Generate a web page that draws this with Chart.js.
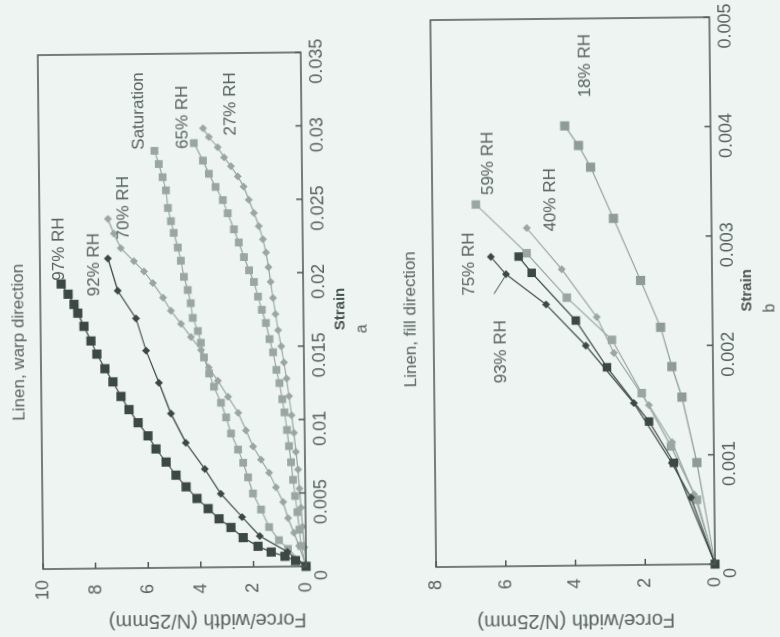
<!DOCTYPE html>
<html>
<head>
<meta charset="utf-8">
<script src="https://cdn.jsdelivr.net/npm/chart.js@4.4.1/dist/chart.umd.min.js"></script>
<style>
  html, body { margin: 0; padding: 0; }
  body { width: 780px; height: 637px; background: #eef4f2; position: relative; overflow: hidden; }
  .panel { position: absolute; width: 637px; height: 390px; transform: rotate(-90.6deg); }
  #panelA { left: -123.5px; top: 123.5px; }
  #panelB { left: 266.5px; top: 123.5px; }
</style>
</head>
<body>
<div class="panel" id="panelA"><canvas id="chartA" width="637" height="390"></canvas></div>
<div class="panel" id="panelB"><canvas id="chartB" width="637" height="390"></canvas></div>
<script>
// tick labels
var strainTicksA = ['0', '0.005', '0.01', '0.015', '0.02', '0.025', '0.03', '0.035'];
var forceTicksA = ['0', '2', '4', '6', '8', '10'];
var strainTicksB = ['0', '0.001', '0.002', '0.003', '0.004', '0.005'];
var forceTicksB = ['0', '2', '4', '6', '8'];

// (a) warp direction
var strain97 = [0, 0.0004, 0.0007, 0.001, 0.0014, 0.002, 0.0027, 0.0033, 0.004, 0.0047, 0.0055, 0.0063, 0.0072, 0.0081, 0.009, 0.0099, 0.0108, 0.0117, 0.0127, 0.0136, 0.0146, 0.0155, 0.0165, 0.0174, 0.018, 0.0187, 0.0194];
var force97 = [0, 0.4, 0.8, 1.32, 1.82, 2.38, 2.84, 3.29, 3.7, 4.12, 4.53, 4.91, 5.28, 5.66, 5.96, 6.33, 6.67, 6.97, 7.27, 7.57, 7.87, 8.09, 8.35, 8.58, 8.72, 8.94, 9.2];
var strain92 = [0, 0.001, 0.0021, 0.0034, 0.005, 0.0067, 0.0085, 0.0105, 0.0126, 0.0148, 0.017, 0.0189, 0.0211];
var force92 = [0, 0.7, 1.75, 2.41, 3.21, 3.81, 4.52, 5.08, 5.52, 6.0, 6.37, 7.05, 7.41];
var strain70 = [0, 0.0014, 0.0023, 0.0033, 0.0044, 0.0054, 0.0064, 0.0073, 0.0082, 0.0093, 0.0105, 0.0116, 0.0127, 0.0136, 0.0148, 0.0157, 0.0166, 0.0175, 0.0184, 0.0194, 0.0202, 0.0209, 0.0218, 0.0228, 0.0238];
var force70 = [0, 0.26, 0.45, 0.67, 0.85, 1.11, 1.37, 1.67, 1.97, 2.23, 2.52, 2.9, 3.28, 3.62, 3.91, 4.29, 4.66, 5.04, 5.33, 5.71, 6.05, 6.43, 6.92, 7.18, 7.4];
var strainSat = [0, 0.0012, 0.0018, 0.0027, 0.0039, 0.005, 0.0061, 0.0071, 0.008, 0.0091, 0.0102, 0.0112, 0.0123, 0.0132, 0.0143, 0.0153, 0.0161, 0.017, 0.018, 0.0189, 0.0198, 0.0209, 0.0218, 0.0228, 0.0236, 0.0245, 0.0257, 0.0266, 0.0275, 0.0284];
var forceSat = [0, 0.68, 1.02, 1.39, 1.69, 1.99, 2.17, 2.35, 2.54, 2.8, 2.98, 3.17, 3.43, 3.61, 3.8, 3.91, 4.02, 4.21, 4.28, 4.39, 4.53, 4.64, 4.75, 4.9, 5.0, 5.11, 5.18, 5.3, 5.44, 5.6];
var strain65 = [0, 0.0014, 0.0025, 0.0037, 0.0048, 0.0059, 0.0071, 0.0082, 0.0093, 0.0105, 0.0114, 0.0125, 0.0134, 0.0146, 0.0155, 0.0166, 0.0175, 0.0184, 0.0194, 0.0202, 0.0211, 0.0221, 0.023, 0.0241, 0.025, 0.0259, 0.0268, 0.0277, 0.0289];
var force65 = [0, 0.18, 0.24, 0.31, 0.39, 0.46, 0.53, 0.6, 0.67, 0.76, 0.84, 0.94, 1.05, 1.17, 1.3, 1.43, 1.58, 1.72, 1.87, 2.05, 2.24, 2.43, 2.61, 2.84, 3.02, 3.29, 3.54, 3.76, 4.1];
var strain27 = [0, 0.0013, 0.0027, 0.004, 0.0053, 0.0066, 0.0078, 0.0091, 0.0103, 0.0116, 0.0128, 0.0139, 0.015, 0.0161, 0.0172, 0.0183, 0.0194, 0.0204, 0.0214, 0.0223, 0.0232, 0.0241, 0.025, 0.0259, 0.0266, 0.0273, 0.0279, 0.0286, 0.0293, 0.0299];
var force27 = [0, 0.06, 0.12, 0.17, 0.22, 0.27, 0.34, 0.41, 0.49, 0.58, 0.67, 0.76, 0.86, 0.97, 1.06, 1.15, 1.24, 1.31, 1.4, 1.51, 1.66, 1.84, 2.03, 2.22, 2.44, 2.7, 2.96, 3.19, 3.53, 3.75];

// (b) fill direction
var strain18 = [0, 0.00093, 0.00153, 0.00181, 0.00217, 0.0026, 0.00317, 0.00364, 0.00384, 0.00402];
var force18 = [0, 0.49, 0.9, 1.18, 1.49, 2.05, 2.81, 3.45, 3.79, 4.18];
var strain40 = [0, 0.00064, 0.00112, 0.00146, 0.00194, 0.00227, 0.00271, 0.00309];
var force40 = [0, 0.58, 1.2, 1.85, 2.84, 3.32, 4.31, 5.3];
var strain59 = [0, 0.00059, 0.00108, 0.00157, 0.00206, 0.00245, 0.00286, 0.00331];
var force59 = [0, 0.5, 1.23, 2.05, 2.89, 4.17, 5.31, 6.75];
var strain75 = [0, 0.00061, 0.00093, 0.00148, 0.00201, 0.00239, 0.00267, 0.00283];
var force75 = [0, 0.67, 1.21, 2.28, 3.64, 4.77, 5.91, 6.34];
var strain93 = [0, 0.00093, 0.00131, 0.00181, 0.00224, 0.00268, 0.00283];
var force93 = [0, 1.15, 1.85, 3.04, 3.92, 5.17, 5.54];

var font = '"Liberation Sans", Arial, sans-serif';
var textColor = '#58625e';
var dark = '#3c4844';
var light = '#9aa6a2';
var mid = '#8f9b97';

function curve(label, strain, force, color, style, radius) {
    return {
        label: label,
        data: strain.map(function (s, i) { return {x: s, y: force[i]}; }),
        showLine: true,
        borderColor: color,
        backgroundColor: color,
        pointBorderColor: color,
        pointBackgroundColor: color,
        borderWidth: 1.2,
        pointBorderWidth: 0,
        pointStyle: style,
        pointRadius: radius,
        tension: 0,
        clip: 10
    };
}

// text next to the last point of each curve, offsets in px
var curveTextA = [
    {text: '97% RH', dx: 35, dy: -2},
    {text: '92% RH', dx: -6, dy: -14},
    {text: '70% RH', dx: 11, dy: 16},
    {text: 'Saturation', dx: 40, dy: -15},
    {text: '65% RH', dx: 26, dy: -11},
    {text: '27% RH', dx: 24, dy: 28}
];
var curveTextB = [
    {text: '93% RH', dx: -95, dy: -18, leader: [-37, -25, -20, -14]},
    {text: '75% RH', dx: -7, dy: -22},
    {text: '40% RH', dx: 28, dy: 24},
    {text: '59% RH', dx: 41, dy: 13},
    {text: '18% RH', dx: 60, dy: 21}
];

// box, inward ticks, heading and curve captions
var decor = {
    id: 'decor',
    afterDatasetsDraw: function (chart, args, opts) {
        var ctx = chart.ctx, a = chart.chartArea;
        var xs = chart.scales.x, ys = chart.scales.y;
        ctx.save();
        ctx.strokeStyle = '#4c5753';
        ctx.lineWidth = 1.5;
        ctx.strokeRect(a.left, a.top, a.right - a.left, a.bottom - a.top);
        ctx.beginPath();
        xs.ticks.forEach(function (t) {
            var px = xs.getPixelForValue(t.value);
            ctx.moveTo(px, a.bottom);
            ctx.lineTo(px, a.bottom - 6);
        });
        ys.ticks.forEach(function (t) {
            var py = ys.getPixelForValue(t.value);
            ctx.moveTo(a.left, py);
            ctx.lineTo(a.left + 6, py);
        });
        ctx.stroke();

        ctx.fillStyle = textColor;
        ctx.textAlign = 'center';
        ctx.textBaseline = 'middle';
        ctx.font = '17px ' + font;
        ctx.fillText(opts.heading, a.left + opts.headingDx, opts.headingY);

        chart.data.datasets.forEach(function (ds, i) {
            var c = opts.captions[i];
            var last = ds.data[ds.data.length - 1];
            var px = xs.getPixelForValue(last.x);
            var py = ys.getPixelForValue(last.y);
            ctx.fillText(c.text, px + c.dx, py + c.dy);
            if (c.leader) {
                ctx.beginPath();
                ctx.lineWidth = 1;
                ctx.strokeStyle = dark;
                ctx.moveTo(px + c.leader[0], py + c.leader[1]);
                ctx.lineTo(px + c.leader[2], py + c.leader[3]);
                ctx.stroke();
            }
        });

        ctx.font = '16px ' + font;
        ctx.fillText(opts.tag, (a.left + a.right) / 2 + opts.tagDx, a.bottom + opts.tagDy);
        ctx.restore();
    }
};

function makeChart(id, datasets, s) {
    return new Chart(document.getElementById(id), {
        type: 'scatter',
        data: {datasets: datasets},
        options: {
            responsive: false,
            animation: false,
            devicePixelRatio: 1,
            layout: {padding: {left: 0, right: s.padRight, top: s.padTop, bottom: 0}},
            plugins: {
                legend: {display: false},
                tooltip: {enabled: false},
                title: {display: false},
                decor: {
                    heading: s.title, headingDx: s.headingDx, headingY: s.headingY,
                    captions: s.captions, tag: s.tag, tagDx: s.tagDx, tagDy: s.tagDy
                }
            },
            scales: {
                x: {
                    type: 'linear',
                    min: 0,
                    max: s.xMax,
                    afterFit: function (scale) {
                        scale.height = s.xHeight;
                        scale.paddingLeft = 0;
                        scale.paddingRight = 0;
                    },
                    grid: {display: false, drawTicks: false},
                    border: {display: false},
                    ticks: {
                        stepSize: s.xStep,
                        padding: 5,
                        labelOffset: -9,
                        maxRotation: 0,
                        autoSkip: false,
                        color: textColor,
                        font: {family: font, size: 18},
                        callback: function (v, i) { return s.xLabels[i]; }
                    },
                    title: {
                        display: true,
                        text: 'Strain',
                        color: '#4a5451',
                        font: {family: font, size: 15, weight: 'bold'},
                        padding: {top: 0, bottom: s.strainPad}
                    }
                },
                y: {
                    type: 'linear',
                    min: 0,
                    max: s.yMax,
                    afterFit: function (scale) {
                        scale.width = s.yWidth;
                        scale.paddingTop = 0;
                        scale.paddingBottom = 0;
                    },
                    grid: {display: false, drawTicks: false},
                    border: {display: false},
                    ticks: {
                        stepSize: 2,
                        padding: s.yPad,
                        crossAlign: 'center',
                        color: textColor,
                        font: {family: font, size: 18},
                        callback: function (v, i) { return s.yLabels[i]; }
                    },
                    title: {
                        display: true,
                        text: 'Force/width (N/25mm)',
                        align: s.forceAlign,
                        color: textColor,
                        font: {family: font, size: 20},
                        padding: {top: 5, bottom: 0}
                    }
                }
            }
        },
        plugins: [decor]
    });
}

makeChart('chartA', [
    curve('97% RH', strain97, force97, dark, 'rect', 6.5),
    curve('92% RH', strain92, force92, dark, 'rectRot', 4),
    curve('70% RH', strain70, force70, light, 'rectRot', 4),
    curve('Saturation', strainSat, forceSat, light, 'rect', 5.5),
    curve('65% RH', strain65, force65, light, 'rect', 5.5),
    curve('27% RH', strain27, force27, light, 'rectRot', 4)
], {
    title: 'Linen, warp direction', headingDx: 227, headingY: 18, padTop: 40, padRight: 53,
    xMax: 0.035, xStep: 0.005, xLabels: strainTicksA, xHeight: 87, strainPad: 41,
    yMax: 10, yLabels: forceTicksA, yWidth: 70, yPad: 11, forceAlign: 'start',
    captions: curveTextA, tag: 'a', tagDx: -20, tagDy: 59
});

makeChart('chartB', [
    curve('93% RH', strain93, force93, dark, 'rect', 6),
    curve('75% RH', strain75, force75, dark, 'rectRot', 4),
    curve('40% RH', strain40, force40, light, 'rectRot', 4),
    curve('59% RH', strain59, force59, light, 'rect', 6),
    curve('18% RH', strain18, force18, mid, 'rect', 6.5)
], {
    title: 'Linen, fill direction', headingDx: 248, headingY: 20, padTop: 43, padRight: 18,
    xMax: 0.005, xStep: 0.001, xLabels: strainTicksB, xHeight: 68, strainPad: 24,
    yMax: 8, yLabels: forceTicksB, yWidth: 72, yPad: 13, forceAlign: 'center',
    captions: curveTextB, tag: 'b', tagDx: -18, tagDy: 58
});
</script>
</body>
</html>
